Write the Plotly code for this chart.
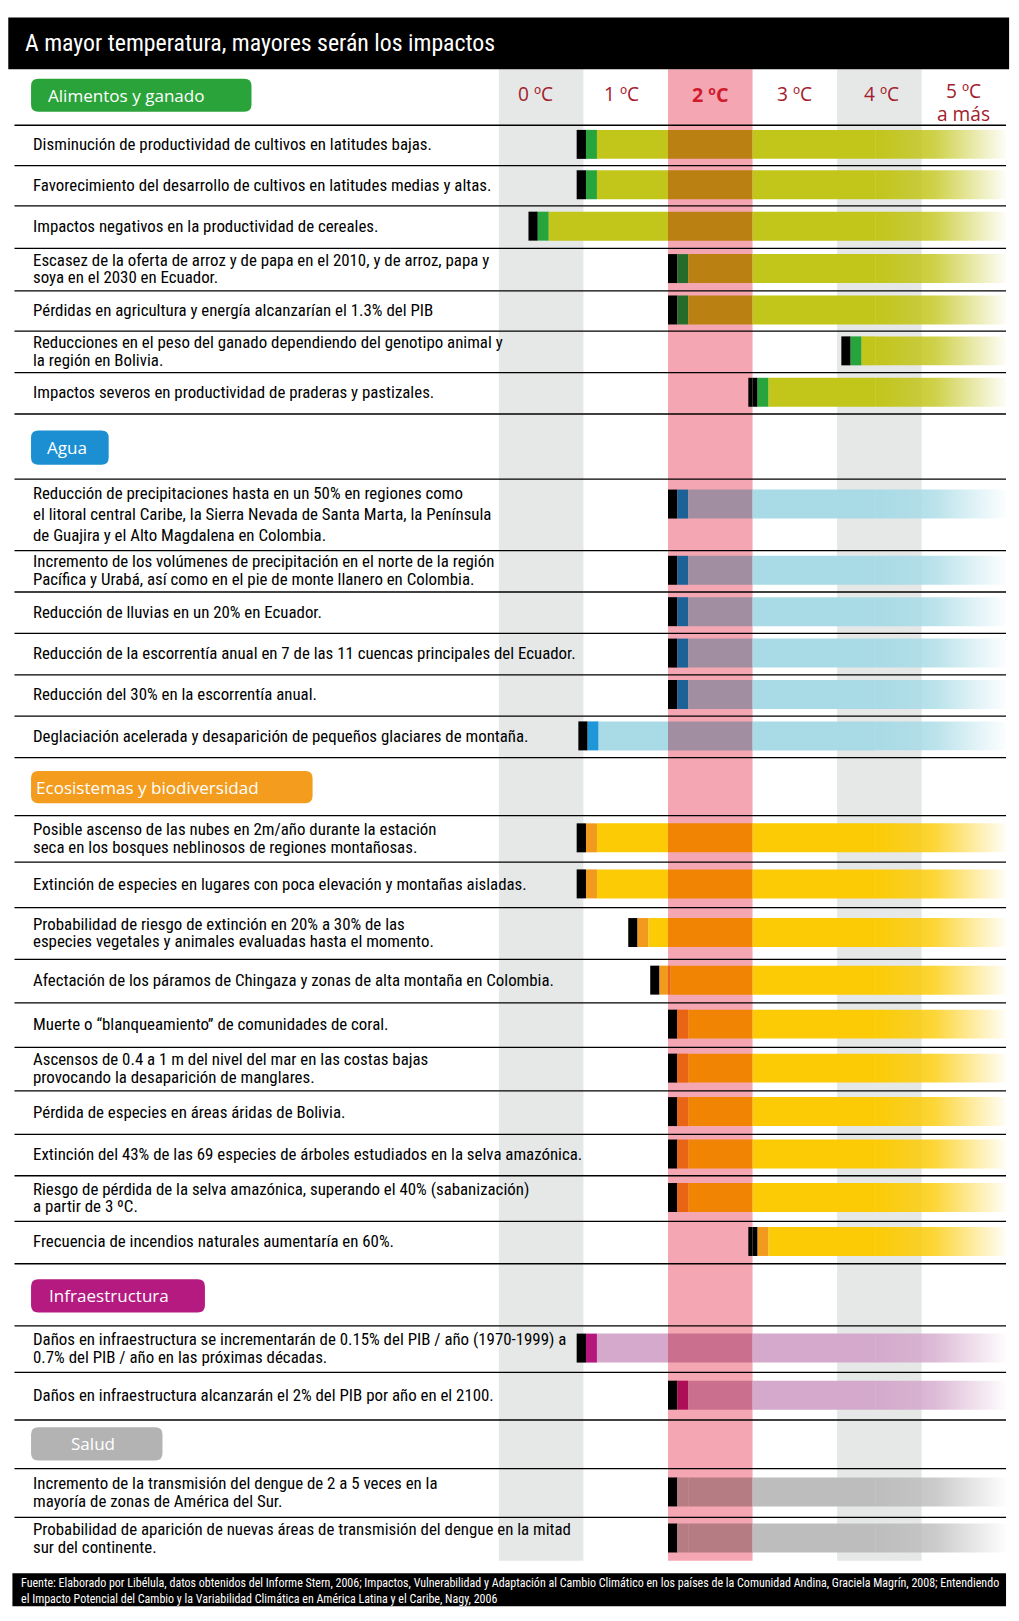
import plotly.graph_objects as go

S = 1.035                 # reference measured on a slightly reduced grid
FIG_W, FIG_H = 1019, 1621

# ---------------- data ----------------
title_text = "A mayor temperatura, mayores serán los impactos"
temp_labels = ["0 ºC", "1 ºC", "2 ºC", "3 ºC", "4 ºC", "5 ºC"]
temp_sub = ["", "", "", "", "", "a más"]

section_names = ["Alimentos y ganado", "Agua", "Ecosistemas y biodiversidad",
                 "Infraestructura", "Salud"]
section_fill = ["#2aa43a", "#1b8fd2", "#f39c1e", "#b41a80", "#b3b3b3"]
bar_main = ["#c2c51a", "#a8dbe6", "#fccb05", "#d4a9cc", "#bdbdbd"]
bar_mark = ["#27a53c", "#1e96d8", "#f29a1e", "#b5177c", "#bdbdbd"]

food_labels = [
    ["Disminución de productividad de cultivos en latitudes bajas."],
    ["Favorecimiento del desarrollo de cultivos en latitudes medias y altas."],
    ["Impactos negativos en la productividad de cereales."],
    ["Escasez de la oferta de arroz y de papa en el 2010, y de arroz, papa y",
     "soya en el 2030 en Ecuador."],
    ["Pérdidas en agricultura y energía alcanzarían el 1.3% del PIB"],
    ["Reducciones en el peso del ganado dependiendo del genotipo animal y",
     "la región en Bolivia."],
    ["Impactos severos en productividad de praderas y pastizales."],
]
food_start = [0.92, 0.92, 0.35, 2.0, 2.0, 4.05, 2.95]

water_labels = [
    ["Reducción de precipitaciones hasta en un 50% en regiones como",
     "el litoral central Caribe, la Sierra Nevada de Santa Marta, la Península",
     "de Guajira y el Alto Magdalena en Colombia."],
    ["Incremento de los volúmenes de precipitación en el norte de la región",
     "Pacífica y Urabá, así como en el pie de monte llanero en Colombia."],
    ["Reducción de lluvias en un 20% en Ecuador."],
    ["Reducción de la escorrentía anual en 7 de las 11 cuencas principales del Ecuador."],
    ["Reducción del 30% en la escorrentía anual."],
    ["Deglaciación acelerada y desaparición de pequeños glaciares de montaña."],
]
water_start = [2.0, 2.0, 2.0, 2.0, 2.0, 0.94]

eco_labels = [
    ["Posible ascenso de las nubes en 2m/año durante la estación",
     "seca en los bosques neblinosos de regiones montañosas."],
    ["Extinción de especies en lugares con poca elevación y montañas aisladas."],
    ["Probabilidad de riesgo de extinción en 20% a 30% de las",
     "especies vegetales y animales evaluadas hasta el momento."],
    ["Afectación de los páramos de Chingaza y zonas de alta montaña en Colombia."],
    ["Muerte o “blanqueamiento” de comunidades de coral."],
    ["Ascensos de 0.4 a 1 m del nivel del mar en las costas bajas",
     "provocando la desaparición de manglares."],
    ["Pérdida de especies en áreas áridas de Bolivia."],
    ["Extinción del 43% de las 69 especies de árboles estudiados en la selva amazónica."],
    ["Riesgo de pérdida de la selva amazónica, superando el 40% (sabanización)",
     "a partir de 3 ºC."],
    ["Frecuencia de incendios naturales aumentaría en 60%."],
]
eco_start = [0.92, 0.92, 1.53, 1.79, 2.0, 2.0, 2.0, 2.0, 2.0, 2.95]

infra_labels = [
    ["Daños en infraestructura se incrementarán de 0.15% del PIB / año (1970-1999) a",
     "0.7% del PIB / año en las próximas décadas."],
    ["Daños en infraestructura alcanzarán el 2% del PIB por año en el 2100."],
]
infra_start = [0.92, 2.0]

health_labels = [
    ["Incremento de la transmisión del dengue de 2 a 5 veces en la",
     "mayoría de zonas de América del Sur."],
    ["Probabilidad de aparición de nuevas áreas de transmisión del dengue en la mitad",
     "sur del continente."],
]
health_start = [2.0, 2.0]

footer_lines = [
    "Fuente: Elaborado por Libélula, datos obtenidos del Informe Stern, 2006; Impactos, Vulnerabilidad y Adaptación al Cambio Climático en los países de la Comunidad Andina, Graciela Magrín, 2008; Entendiendo",
    "el Impacto Potencial del Cambio y la Variabilidad Climática en América Latina y el Caribe, Nagy, 2006",
]

section_labels = [food_labels, water_labels, eco_labels, infra_labels, health_labels]
section_starts = [food_start, water_start, eco_start, infra_start, health_start]

# ---------------- layout (reference px grid) ----------------
pill_boxes = [(30, 76, 243, 108), (30, 416, 105, 449), (30, 745, 302, 776),
              (30, 1236, 198, 1268), (30, 1379, 157, 1411)]
pill_text_x = [44, 43, 33, 45, 67]
header_dx = [-0.07, -0.05, 0.0, 0.0, 0.03, 0.0]
section_rules = [
    [121, 160, 199, 240, 281, 320, 360, 400],
    [463, 532, 572, 612, 652, 692, 732],
    [788, 833, 877, 927, 969, 1012, 1054, 1096, 1136, 1180, 1221],
    [1281, 1326, 1372],
    [1419, 1466, 1508],
]
COL_TOP, COL_BOT = 67, 1508
RULE_X0, RULE_X1 = 14, 972
TEXT_X = 30
BAR_H = 28

PINK = "#f4a7b2"
GRAY_COL = "#e6e8e8"
HEAD_RED = "#a3202c"
HOT_RED = "#d01a2e"

LABEL_FONT = "Liberation Sans Narrow, Arial Narrow, Roboto Condensed, DejaVu Sans Condensed, Liberation Sans"
PILL_FONT = "Open Sans, Noto Sans, Liberation Sans"


def P(v):
    return v * S


def hex2rgb(h):
    h = h.lstrip('#')
    return tuple(int(h[i:i + 2], 16) for i in (0, 2, 4))


def multiply(c1, c2):
    a, b = hex2rgb(c1), hex2rgb(c2)
    return '#%02x%02x%02x' % tuple(round(x * y / 255) for x, y in zip(a, b))


def rgba(h, a):
    r, g, b = hex2rgb(h)
    return f"rgba({r},{g},{b},{a})"


X0 = P(482)
CW = P(81.7)
x2_range = [(0 - X0) / CW, (FIG_W - X0) / CW]

BLACK_W, MARK_W, FADE_START, BAR_END = 0.11, 0.13, 4.45, 6.0
HOT = (2.0, 3.0)


def split(a, b):
    cuts = sorted(set([a, b] + [c for c in HOT if a < c < b]))
    out = []
    for u, v in zip(cuts[:-1], cuts[1:]):
        out.append((u, v, HOT[0] <= u and v <= HOT[1]))
    return out


fig = go.Figure()
shapes = []
annotations = []

# background columns
for k in (0, 4):
    shapes.append(dict(type="rect", xref="x2", yref="y", x0=k, x1=k + 1,
                       y0=P(COL_TOP), y1=P(COL_BOT), fillcolor=GRAY_COL,
                       line=dict(width=0), layer="below"))
shapes.append(dict(type="rect", xref="x2", yref="y", x0=HOT[0], x1=HOT[1],
                   y0=P(COL_TOP), y1=P(COL_BOT), fillcolor=PINK,
                   line=dict(width=0), layer="below"))

# title bar and footer
shapes.append(dict(type="rect", xref="x", yref="y", x0=P(8), x1=P(975),
                   y0=P(17), y1=P(67), fillcolor="black", line=dict(width=0)))
shapes.append(dict(type="rect", xref="x", yref="y", x0=P(12), x1=P(972),
                   y0=P(1520), y1=P(1552), fillcolor="black", line=dict(width=0)))
annotations.append(dict(x=P(22), y=P(42), xref="x", yref="y", text=title_text,
                        showarrow=False, xanchor="left", yanchor="middle",
                        font=dict(family=LABEL_FONT, size=P(23), color="white")))
for i, line in enumerate(footer_lines):
    annotations.append(dict(x=P(18), y=P(1529 + 16 * i), xref="x", yref="y",
                            text=line, showarrow=False, xanchor="left",
                            yanchor="middle",
                            font=dict(family=LABEL_FONT, size=P(11.6), color="white")))

# column headings
for k, (lab, sub) in enumerate(zip(temp_labels, temp_sub)):
    hot = (k == 2)
    ty = 88 if sub else 91
    annotations.append(dict(x=k + 0.5 + header_dx[k], y=P(ty), xref="x2", yref="y",
                            text=f"<b>{lab}</b>" if hot else lab, showarrow=False,
                            xanchor="center", yanchor="middle",
                            font=dict(family=PILL_FONT, size=P(19) if hot else P(18.5),
                                      color=HOT_RED if hot else HEAD_RED)))
    if sub:
        annotations.append(dict(x=k + 0.5 + header_dx[k], y=P(110), xref="x2", yref="y",
                                text=sub, showarrow=False, xanchor="center",
                                yanchor="middle",
                                font=dict(family=PILL_FONT, size=P(18.5), color=HEAD_RED)))


def rounded(x0, y0, x1, y1, r):
    x0, y0, x1, y1, r = P(x0), P(y0), P(x1), P(y1), P(r)
    return (f"M {x0 + r},{y0} L {x1 - r},{y0} Q {x1},{y0} {x1},{y0 + r} "
            f"L {x1},{y1 - r} Q {x1},{y1} {x1 - r},{y1} L {x0 + r},{y1} "
            f"Q {x0},{y1} {x0},{y1 - r} L {x0},{y0 + r} Q {x0},{y0} {x0 + r},{y0} Z")


seg_y, seg_base, seg_len, seg_col = [], [], [], []

for si, name in enumerate(section_names):
    bx0, by0, bx1, by1 = pill_boxes[si]
    shapes.append(dict(type="path", xref="x", yref="y",
                       path=rounded(bx0, by0, bx1, by1, 7),
                       fillcolor=section_fill[si], line=dict(width=0)))
    annotations.append(dict(x=P(pill_text_x[si]), y=P((by0 + by1) / 2), xref="x", yref="y",
                            text=name, showarrow=False, xanchor="left", yanchor="middle",
                            font=dict(family=PILL_FONT, size=P(16.5), color="white")))
    rules = section_rules[si]
    for r in rules:
        if r == COL_BOT:
            continue
        shapes.append(dict(type="line", xref="x", yref="y", x0=P(RULE_X0), x1=P(RULE_X1),
                           y0=P(r), y1=P(r), line=dict(color="black", width=1.3)))
    main = bar_main[si]
    mark = bar_mark[si]
    for ri, (lines, s) in enumerate(zip(section_labels[si], section_starts[si])):
        top, bot = rules[ri], rules[ri + 1]
        mid = (top + bot) / 2
        yc = min(mid - 1, top + 24)
        gap = 20.5 if len(lines) > 2 else 17
        for li, line in enumerate(lines):
            ly = mid - 1 + (li - (len(lines) - 1) / 2) * gap
            annotations.append(dict(x=P(TEXT_X), y=P(ly), xref="x", yref="y", text=line,
                                    showarrow=False, xanchor="left", yanchor="middle",
                                    font=dict(family=LABEL_FONT, size=P(16.3), color="black")))
        parts = [(s, s + BLACK_W, "#000000"),
                 (s + BLACK_W, s + BLACK_W + MARK_W, mark),
                 (s + BLACK_W + MARK_W, FADE_START, main)]
        for a, b, c in parts:
            for u, v, inside in split(a, b):
                col = c if c == "#000000" else (multiply(c, PINK) if inside else c)
                seg_y.append(P(yc))
                seg_base.append(u)
                seg_len.append(v - u)
                seg_col.append(col)
        y0, y1 = P(yc - BAR_H / 2), P(yc + BAR_H / 2)
        fig.add_trace(go.Scatter(
            x=[FADE_START, BAR_END, BAR_END, FADE_START, FADE_START],
            y=[y0, y0, y1, y1, y0], xaxis="x2", yaxis="y",
            fill="toself", mode="lines", line=dict(width=0, color=rgba(main, 0)),
            fillgradient=dict(type="horizontal",
                              colorscale=[[0, rgba(main, 1)], [0.45, rgba(main, 0.8)],
                                          [1, rgba(main, 0.03)]]),
            hoverinfo="skip", showlegend=False))

fig.add_trace(go.Bar(orientation="h", y=seg_y, x=seg_len, base=seg_base,
                     width=P(BAR_H), marker=dict(color=seg_col, line=dict(width=0)),
                     xaxis="x2", yaxis="y", hoverinfo="skip", showlegend=False))

fig.update_layout(
    width=FIG_W, height=FIG_H,
    margin=dict(l=0, r=0, t=0, b=0),
    paper_bgcolor="white", plot_bgcolor="rgba(0,0,0,0)",
    barmode="overlay", showlegend=False,
    xaxis=dict(range=[0, FIG_W], visible=False, fixedrange=True),
    xaxis2=dict(range=x2_range, overlaying="x", visible=False, fixedrange=True),
    yaxis=dict(range=[FIG_H, 0], visible=False, fixedrange=True),
    shapes=shapes, annotations=annotations,
)

fig.write_html("out.html", config={"displayModeBar": False},
               post_script="document.body.style.margin='0';document.body.style.overflow='hidden';")
